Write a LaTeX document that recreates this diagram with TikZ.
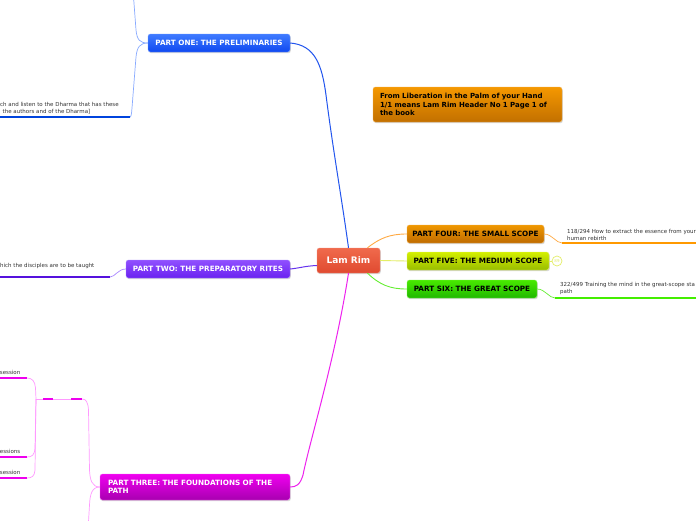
\documentclass[tikz,border=0pt]{standalone}
\usepackage{fontspec}
\setmainfont{DejaVu Sans}
\usetikzlibrary{shadows}
\definecolor{cBlue}{HTML}{2255EE}
\definecolor{cBlueL}{HTML}{88AAFF}
\definecolor{cBlueU}{HTML}{0044DD}
\definecolor{cPurp}{HTML}{6633EE}
\definecolor{cPurpL}{HTML}{AA88FF}
\definecolor{cPurpU}{HTML}{5511DD}
\definecolor{cMag}{HTML}{EE22EE}
\definecolor{cMagL}{HTML}{FF99FF}
\definecolor{cMagU}{HTML}{EE00EE}
\definecolor{cOrg}{HTML}{FFAA44}
\definecolor{cOrgU}{HTML}{FF9900}
\definecolor{cYel}{HTML}{E4EE66}
\definecolor{cGrn}{HTML}{66EE33}
\definecolor{cGrnU}{HTML}{44EE00}
\definecolor{cTxt}{HTML}{333333}
% box colours
\definecolor{lamT}{HTML}{F06A4C}\definecolor{lamB}{HTML}{E04A30}\definecolor{lamD}{HTML}{F09080}
\definecolor{oneT}{HTML}{3F7BFF}\definecolor{oneB}{HTML}{0F48F0}\definecolor{oneD}{HTML}{6F98FF}
\definecolor{twoT}{HTML}{9050FF}\definecolor{twoB}{HTML}{6A22F0}\definecolor{twoD}{HTML}{A888FF}
\definecolor{thrT}{HTML}{F000F0}\definecolor{thrB}{HTML}{A800B0}\definecolor{thrD}{HTML}{F060F0}
\definecolor{fouT}{HTML}{F09800}\definecolor{fouB}{HTML}{BE6A00}\definecolor{fouD}{HTML}{F0B050}
\definecolor{fivT}{HTML}{D4F000}\definecolor{fivB}{HTML}{98BC00}\definecolor{fivD}{HTML}{E0F060}
\definecolor{sixT}{HTML}{48EA00}\definecolor{sixB}{HTML}{20B800}\definecolor{sixD}{HTML}{80F050}
\definecolor{hdrT}{HTML}{F59800}\definecolor{hdrB}{HTML}{C27000}\definecolor{hdrD}{HTML}{F0B050}
\tikzset{
  partbox/.style={rounded corners=2.5pt, inner sep=0pt, minimum height=18pt,
    font=\bfseries\fontsize{7.25}{8.6}\selectfont,
    drop shadow={shadow xshift=0.8pt,shadow yshift=-1.2pt,opacity=0.3}},
  subtxt/.style={font=\fontsize{5.5}{7}\selectfont, text=cTxt, inner sep=0pt, align=left},
  uline/.style={line width=2pt},
  thin/.style={line width=0.7pt},
}
\begin{document}
\begin{tikzpicture}[x=1pt,y=-1pt]
\useasboundingbox (0,0) rectangle (696,520);
\clip (0,0) rectangle (696,520);
\fill[white] (0,0) rectangle (696,520);

% nodes
\node[partbox, top color=lamT, bottom color=lamB, draw=lamD,
  minimum width=63pt, minimum height=25pt, font=\bfseries\fontsize{9}{10}\selectfont, text=white]
  (lam) at (348.5,260.5) {Lam Rim};
\node[partbox, top color=oneT, bottom color=oneB, draw=oneD, minimum width=142pt, text=white]
  (p1) at (219,43) {PART ONE: THE PRELIMINARIES};
\node[partbox, top color=twoT, bottom color=twoB, draw=twoD, minimum width=164pt, text=white]
  (p2) at (208,269) {PART TWO: THE PREPARATORY RITES};
\node[partbox, top color=thrT, bottom color=thrB, draw=thrD, minimum width=190pt, minimum height=26pt,
  text width=174pt, align=left, text=white]
  (p3) at (195,487) {PART THREE: THE FOUNDATIONS OF THE\\PATH};
\node[partbox, top color=fouT, bottom color=fouB, draw=fouD, minimum width=137pt, text=black]
  (p4) at (475.5,234) {PART FOUR: THE SMALL SCOPE};
\node[partbox, top color=fivT, bottom color=fivB, draw=fivD, minimum width=142pt, text=black]
  (p5) at (478,261) {PART FIVE: THE MEDIUM SCOPE};
\node[partbox, top color=sixT, bottom color=sixB, draw=sixD, minimum width=130pt, text=black]
  (p6) at (472,289) {PART SIX: THE GREAT SCOPE};
\node[partbox, top color=hdrT, bottom color=hdrB, draw=hdrD, minimum width=189pt, minimum height=35pt,
  text width=175pt, align=left, text=black, font=\bfseries\fontsize{7}{8.4}\selectfont]
  (hdr) at (467.5,104.5) {From Liberation in the Palm of your Hand\\1/1 means Lam Rim Header No 1 Page 1 of\\the book};
\node[circle, draw=cYel, line width=0.7pt, minimum size=10pt, inner sep=0pt, text=cYel,
  font=\fontsize{4}{4}\selectfont] (c5) at (557,261) {89};

% main connectors
\draw[cBlue, line width=1pt] (p1.east) .. controls (315,45) and (322,65) .. (326,95)
   .. controls (333,150) and (342,200) .. (lam.north);
\draw[cPurp, line width=1pt] (p2.east) .. controls (300,268) and (305,266) .. ([yshift=-5pt]lam.west);
\draw[cMag, line width=1pt] (lam.south) .. controls (335,360) and (310,440) .. (303,475)
   .. controls (300,485) and (296,487) .. (p3.east);
\draw[cOrg, line width=0.9pt] ([xshift=19pt]lam.north) .. controls (380,238) and (390,234) .. (p4.west);
\draw[cYel, line width=0.9pt] (lam.east) -- (p5.west);
\draw[cGrn, line width=0.9pt] ([xshift=19pt]lam.south) .. controls (380,285) and (390,289) .. (p6.west);
\draw[cYel, line width=0.7pt] (p5.east) -- (c5.west);

% part four sub
\coordinate (u4a) at (562,243);
\coordinate (u4b) at (700,243);
\draw[cOrg, thin] (p4.east) .. controls (552,234) and (556,243) .. (u4a);
\draw[cOrgU, uline] (u4a) -- (u4b);
\node[subtxt, anchor=south west] (t4) at (567,240.5) {118/294 How to extract the essence from your\\human rebirth};

% part six sub
\coordinate (u6a) at (555,298);
\coordinate (u6b) at (700,298);
\draw[cGrn, thin] (p6.east) .. controls (545,289) and (549,298) .. (u6a);
\draw[cGrnU, line width=2.5pt] (u6a) -- (u6b);
\node[subtxt, anchor=south west] (t6) at (560,295) {322/499 Training the mind in the great-scope sta\\path};

% part one sub
\coordinate (u1a) at (130,117);
\coordinate (u1b) at (-10,117);
\coordinate (top1) at (133,-10);
\draw[cBlueL, thin] (p1.west) .. controls (140,43) and (137,40) .. (136,30) -- (top1);
\draw[cBlueL, thin] (p1.west) .. controls (140,43) and (137,47) .. (136,57) -- (132,108)
   .. controls (131.6,114) and (131,117) .. (u1a);
\draw[cBlueU, uline] (u1a) -- (u1b);
\node[subtxt, anchor=south west] (t1) at (0,114.5) {ch and listen to the Dharma that has these\\\hspace*{2.5pt}the authors and of the Dharma]};

% part two sub
\coordinate (u2a) at (110,277);
\coordinate (u2b) at (-10,277);
\draw[cPurpL, thin] (p2.west) .. controls (118,269) and (115,277) .. (u2a);
\draw[cPurpU, uline] (u2a) -- (u2b);
\node[subtxt, anchor=base west] (t2) at (0,267) {hich the disciples are to be taught};

% part three sub
\coordinate (e1r) at (82,399);
\coordinate (e1l) at (71,399);
\coordinate (e2r) at (53,399);
\coordinate (e2l) at (43,399);
\coordinate (br) at (36,399);
\coordinate (ua) at (27,378);
\coordinate (ub) at (27,457);
\coordinate (uc) at (27,478);
\coordinate (bot3) at (88,530);
\draw[cMagL, thin] (p3.west) .. controls (92,487) and (90,480) .. (89.5,470) -- (88.5,410)
   .. controls (88,402) and (86,399) .. (e1r);
\draw[cMagL, thin] (p3.west) .. controls (92,487) and (90,494) .. (89.5,505) -- (bot3);
\draw[cMagU, uline] (e1r) -- (e1l);
\draw[cMagL, thin] (e1l) -- (e2r);
\draw[cMagU, uline] (e2r) -- (e2l);
\draw[cMagL, thin] (e2l) -- (br);
\draw[cMagL, thin] (br) -- (35.5,388) .. controls (35,381) and (32,378) .. (ua);
\draw[cMagL, thin] (br) -- (35,448) .. controls (34.6,455) and (32,457) .. (ub);
\draw[cMagL, thin] (br) -- (35,470) .. controls (34.6,476) and (32,478) .. (uc);
\draw[cMagU, uline] (ua) -- (-10,378);
\draw[cMagU, uline] (ub) -- (-10,457);
\draw[cMagU, uline] (uc) -- (-10,478);
\node[subtxt, anchor=base east] (ta) at (20.5,374) {session};
\node[subtxt, anchor=base east] (tb) at (20.5,453) {essions};
\node[subtxt, anchor=base east] (tc) at (20.5,474) {session};
\end{tikzpicture}
\end{document}
